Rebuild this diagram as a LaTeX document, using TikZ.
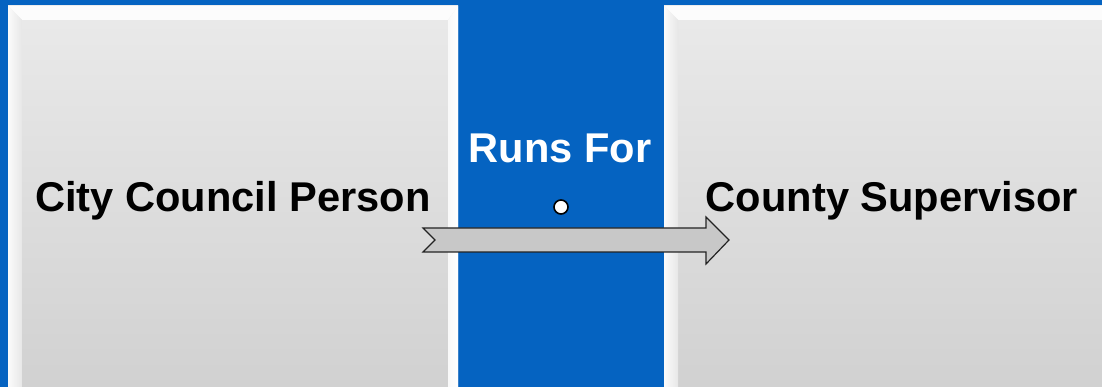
\documentclass[tikz,border=0pt]{standalone}
\usepackage{fontspec}
\setmainfont{Liberation Sans}
\usetikzlibrary{calc}

\definecolor{bgblue}{RGB}{5,99,193}
\definecolor{paneltop}{RGB}{234,234,234}
\definecolor{panelbot}{RGB}{209,209,209}
\definecolor{arrowgray}{RGB}{200,200,200}
\definecolor{edgedark}{RGB}{35,35,35}

\tikzset{
  panel/.style={rectangle, inner sep=0pt, outer sep=0pt,
    top color=paneltop, bottom color=panelbot},
  paneltext/.style={inner sep=0pt, text height=30pt, text depth=0pt,
    font=\fontsize{41.6}{49}\selectfont\bfseries, text=black},
  bevellight/.style={fill=white!98!gray},
  banner/.style={font=\fontsize{41.6}{49}\selectfont\bfseries, text=white,
    inner sep=0pt, anchor=base},
  pin/.style={circle, draw=black, fill=white, line width=1.6pt,
    minimum size=14pt, inner sep=0pt},
  blockarrow/.style={fill=arrowgray, draw=edgedark, line width=1.2pt,
    line join=miter}
}

% beveled panel: #1 name, #2 left x, #3 right x, #4 text
\newcommand\bevelpanel[4]{%
  \node[panel, minimum width={#3-#2}, minimum height=381pt]
    (#1) at ({(#2+#3)/2},196.5) {};
  % top bevel
  \fill[bevellight] (#1.north west) -- (#1.north east)
    -- ($(#1.north east)+(-10,14)$) -- ($(#1.north west)+(14,14)$) -- cycle;
  % left bevel
  \shade[left color=white!97!gray, right color=paneltop!97!gray]
    (#1.north west) -- ($(#1.north west)+(14,14)$)
    -- ($(#1.south west)+(14,0)$) -- (#1.south west) -- cycle;
  % right bevel
  \shade[left color=white!95!gray, right color=white]
    (#1.north east) -- ($(#1.north east)+(-10,14)$)
    -- ($(#1.south east)+(-10,0)$) -- (#1.south east) -- cycle;
  \node[paneltext] (#1-label) at (#1.center) {#4};
}

\begin{document}
\begin{tikzpicture}[x=1pt, y=-1pt]
  \useasboundingbox (0,0) rectangle (1102,387);
  \clip (0,0) rectangle (1102,387);
  \fill[bgblue] (0,0) rectangle (1102,387);

  % the two panels
  \bevelpanel{council}{8}{458}{City Council Person}
  \bevelpanel{supervisor}{664}{1120}{County Supervisor}

  % relation label
  \node[banner] (runs) at (560,163) {Runs For};

  % block arrow from one panel to the other
  \coordinate (atail) at (423,240);
  \coordinate (atip)  at (729,240);
  \draw[blockarrow]
    ($(atail)+(0,-12)$) -- ($(atip)+(-23,-12)$) -- ($(atip)+(-23,-23)$)
    -- (atip)
    -- ($(atip)+(-23,24)$) -- ($(atip)+(-23,12)$) -- ($(atail)+(0,12)$)
    -- ($(atail)+(12,0)$) -- cycle;

  % small handle on the arrow
  \node[pin] (handle) at (561,207) {};
\end{tikzpicture}
\end{document}
